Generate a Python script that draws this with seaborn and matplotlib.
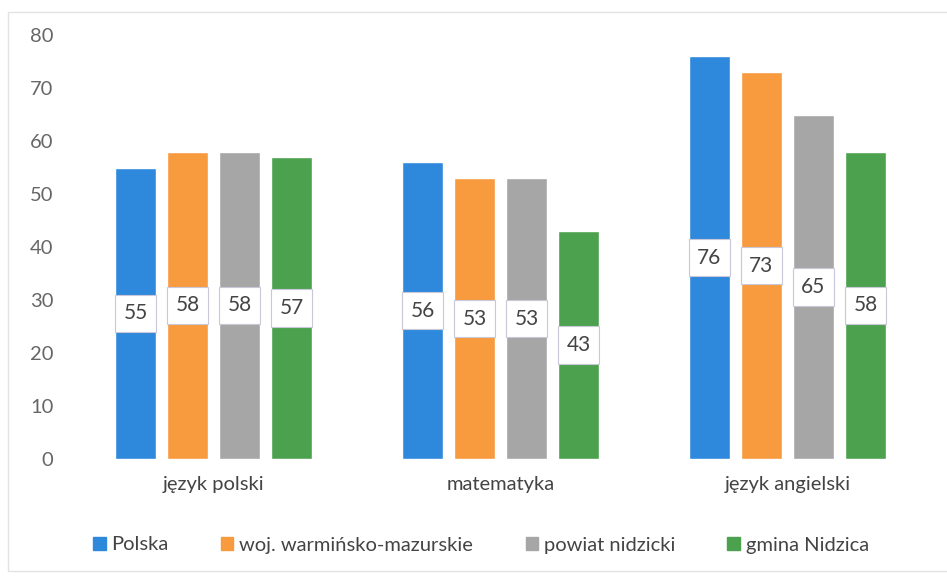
import matplotlib
matplotlib.use("Agg")
import matplotlib.pyplot as plt
import seaborn as sns
import pandas as pd

subjects = ["język polski", "matematyka", "język angielski"]
regions = ["Polska", "woj. warmińsko-mazurskie", "powiat nidzicki", "gmina Nidzica"]
polska = [55, 56, 76]
wojewodztwo = [58, 53, 73]
powiat = [58, 53, 65]
gmina = [57, 43, 58]
colors = ["#2E88DC", "#F89A3E", "#A6A6A6", "#4CA14E"]
y_ticks = [0, 10, 20, 30, 40, 50, 60, 70, 80]

series = [polska, wojewodztwo, powiat, gmina]
rows = []
for region, vals in zip(regions, series):
    for subj, v in zip(subjects, vals):
        rows.append({"subject": subj, "region": region, "value": v})
df = pd.DataFrame(rows)

sns.set_theme(style="white")
plt.rcParams["font.family"] = ["Lato", "DejaVu Sans"]

fig = plt.figure(figsize=(9.47, 5.77), dpi=100)
ax = fig.add_axes([0.074, 0.2045, 0.909, 0.7345])

sns.barplot(data=df, x="subject", y="value", hue="region", order=subjects,
            hue_order=regions, palette=colors, width=0.725, gap=0.2,
            saturation=1, errorbar=None, legend=False, ax=ax)

ax.set_ylim(0, 80)
ax.set_xlim(-0.5, 2.5)
ax.set_yticks(y_ticks)
ax.set_yticklabels([str(t) for t in y_ticks])
ax.tick_params(axis="y", length=0, labelsize=14.5, colors="#666666", pad=12)
ax.tick_params(axis="x", length=0, labelsize=14.5, colors="#444444", pad=12)
ax.set_xlabel("")
ax.set_ylabel("")
for s in ax.spines.values():
    s.set_visible(False)

# value boxes centred halfway up each bar
for container in ax.containers:
    for bar in container:
        h = bar.get_height()
        ax.text(bar.get_x() + bar.get_width() / 2, h / 2, f"{h:.0f}",
                ha="center", va="center", fontsize=15, color="#444444",
                bbox=dict(boxstyle="square,pad=0.42", fc="white",
                          ec="#C8C8D8", lw=0.8))

handles = [plt.Rectangle((0, 0), 1, 1, color=c) for c in colors]
fig.legend(handles, regions, loc="center", ncol=4,
           bbox_to_anchor=(0.508, 1 - 545 / 577), frameon=False,
           fontsize=14.5, labelcolor="#444444", handlelength=0.6,
           handleheight=0.6, handletextpad=0.3, columnspacing=2.6)

# light chart frame
fig.add_artist(plt.Rectangle((8 / 947, 0.01), 0.995, 1 - 12 / 577 - 0.01,
                             transform=fig.transFigure, fill=False,
                             ec="#E2E2E2", lw=1))

fig.savefig("out.png", dpi=100, facecolor="white")
